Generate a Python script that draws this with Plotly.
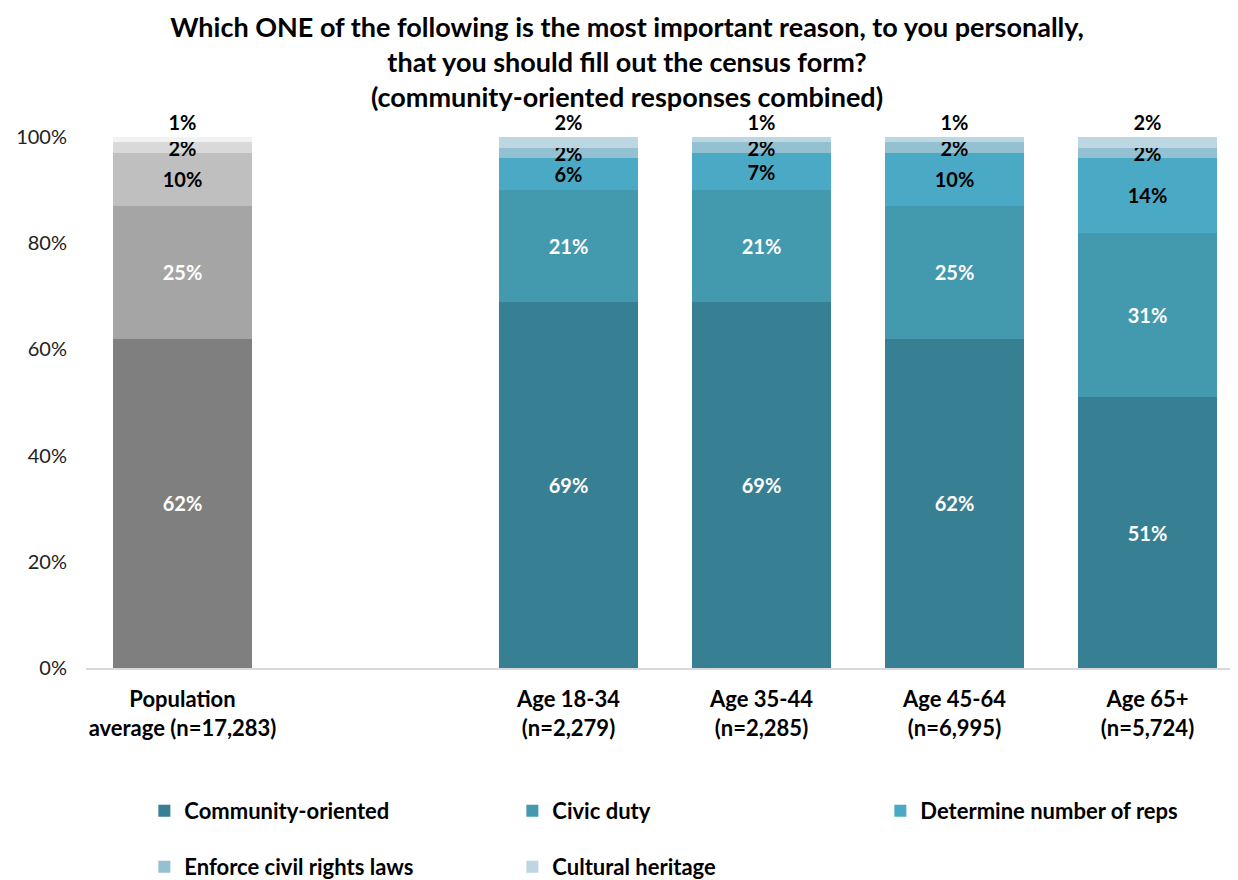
import plotly.graph_objects as go

# --- Datos ---
categorias = ["Population<br>average (n=17,283)", " ", "Age 18-34<br>(n=2,279)",
              "Age 35-44<br>(n=2,285)", "Age 45-64<br>(n=6,995)", "Age 65+<br>(n=5,724)"]
poblacion = categorias[0]
edades = categorias[2:]

series = ["Community-oriented", "Civic duty", "Determine number of reps",
          "Enforce civil rights laws", "Cultural heritage"]

pob_valores = [62, 25, 10, 2, 1]

community = [69, 69, 62, 51]
civic = [21, 21, 25, 31]
determine = [6, 7, 10, 14]
enforce = [2, 2, 2, 2]
cultural = [2, 1, 1, 2]

colores_teal = ["#377F93", "#4399AE", "#4AAAC5", "#93C1D2", "#BCD7E2"]
colores_gris = ["#7F7F7F", "#A5A5A5", "#BFBFBF", "#D9D9D9", "#F2F2F2"]
texto_teal = ["white", "white", "black", "black", "black"]
texto_gris = ["white", "white", "black", "black", "black"]

FUENTE = "Lato"

fig = go.Figure()

# --- Barra de poblacion (gris) ---
for i, nombre in enumerate(series):
    fig.add_trace(go.Bar(
        x=[poblacion], y=[pob_valores[i]],
        name=nombre, showlegend=False,
        marker_color=colores_gris[i], marker_line_width=0,
        text=[f"{pob_valores[i]}%"],
        textposition="outside" if i == len(series) - 1 else "inside",
        insidetextanchor="middle",
        textfont=dict(color=texto_gris[i], size=20, family=FUENTE, weight="bold"),
        cliponaxis=False,
    ))

# --- Barras por edad (teal) ---
valores_edad = [community, civic, determine, enforce, cultural]
leyendas = ["legend", "legend", "legend", "legend2", "legend2"]
for i, nombre in enumerate(series):
    fig.add_trace(go.Bar(
        x=edades, y=valores_edad[i],
        name=nombre, legend=leyendas[i],
        marker_color=colores_teal[i], marker_line_width=0,
        text=[f"{v}%" for v in valores_edad[i]],
        textposition="outside" if i == len(series) - 1 else "inside",
        insidetextanchor="middle",
        textfont=dict(color=texto_teal[i], size=20, family=FUENTE, weight="bold"),
        cliponaxis=False,
    ))

leyenda_base = dict(
    orientation="h", xanchor="left", yanchor="middle",
    traceorder="normal",
    entrywidth=323, entrywidthmode="pixels",
    font=dict(family=FUENTE, size=22, color="black", weight="bold"),
    bgcolor="rgba(0,0,0,0)",
)

fig.update_layout(
    width=1238, height=880,
    template="plotly_white",
    barmode="stack",
    bargap=0.28,
    uniformtext=dict(minsize=20, mode="show"),
    font=dict(family=FUENTE, size=20, color="black"),
    title=dict(
        text="<b>Which ONE of the following is the most important reason, to you personally,<br>"
             "that you should fill out the census form?<br>"
             "(community-oriented responses combined)</b>",
        x=0.5, xanchor="center", xref="container",
        y=1 - 29 / 880, yanchor="middle", yref="container",
        font=dict(family=FUENTE, size=27, color="black"),
    ),
    margin=dict(l=78, r=2, t=129, b=220, autoexpand=False),
    xaxis=dict(
        categoryorder="array", categoryarray=categorias,
        range=[-0.5, 5.5],
        showline=True, linecolor="#D9D9D9", linewidth=2,
        showgrid=False, ticks="", ticklabelstandoff=11,
        tickfont=dict(family=FUENTE, size=22, color="black", weight="bold"),
    ),
    yaxis=dict(
        range=[0, 100], dtick=20, ticksuffix="%",
        showgrid=False, zeroline=False, showline=False,
        ticklabelstandoff=18,
        tickfont=dict(family=FUENTE, size=20, color="#222222"),
    ),
    legend=dict(leyenda_base, x=0.0504, y=-0.2693),
    legend2=dict(leyenda_base, x=0.0504, y=-0.3748),
)

fig.write_html("out.html")
